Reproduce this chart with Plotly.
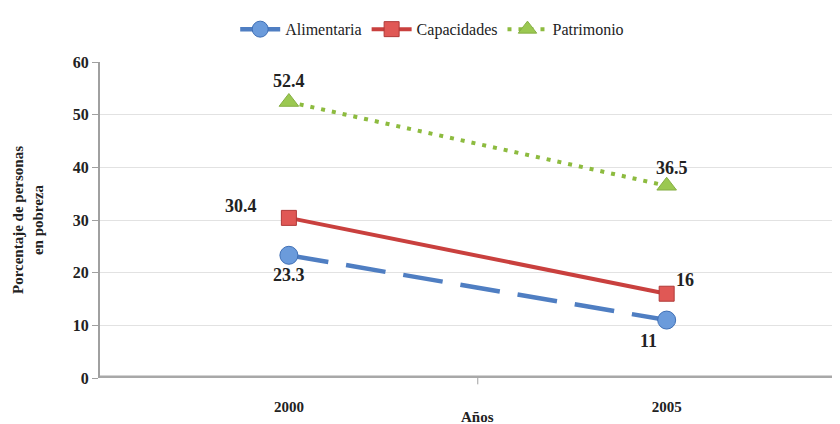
import plotly.graph_objects as go

years = ["2000", "2005"]
alimentaria = [23.3, 11]
capacidades = [30.4, 16]
patrimonio = [52.4, 36.5]
y_ticks = [0, 10, 20, 30, 40, 50, 60]

FONT = "Liberation Serif, DejaVu Serif, serif"
fig = go.Figure()
xs = [0, 1]
fig.add_trace(go.Scatter(x=xs, y=alimentaria, name="Alimentaria", mode="lines+markers",
                         line=dict(color="#4F7EC2", width=4.5, dash="40px,18px"),
                         marker=dict(symbol="circle", size=18, color="#6B9BDB",
                                     line=dict(color="#3F6FB5", width=1))))
fig.add_trace(go.Scatter(x=xs, y=capacidades, name="Capacidades", mode="lines+markers",
                         line=dict(color="#C9403E", width=4),
                         marker=dict(symbol="square", size=15, color="#E05855",
                                     line=dict(color="#B03A38", width=1))))
fig.add_trace(go.Scatter(x=xs, y=patrimonio, name="Patrimonio", mode="lines+markers",
                         line=dict(color="#8DBB3F", width=4, dash="4px,7px"),
                         marker=dict(symbol="triangle-up", size=17, color="#9BC851",
                                     line=dict(color="#86AF44", width=1))))

lab = dict(font=dict(family=FONT, size=18, color="#222222", weight="bold"), showarrow=False)
anns = [
    (0, patrimonio[0], "52.4", 0, 21),
    (1, patrimonio[1], "36.5", 5, 18),
    (0, capacidades[0], "30.4", -48, 12),
    (1, capacidades[1], "16", 18, 14),
    (0, alimentaria[0], "23.3", 0, -20),
    (1, alimentaria[1], "11", -18, -21),
]
for x, y, t, dx, dy in anns:
    fig.add_annotation(x=x, y=y, text=t, xshift=dx, yshift=dy, **lab)

fig.add_annotation(x=0.5, xref="x", y=-0.123, yref="paper", yanchor="middle",
                   text="Años", showarrow=False,
                   font=dict(family=FONT, size=15, color="#222222", weight="bold"))

fig.add_shape(type="line", xref="paper", yref="y", x0=0, x1=1, y0=0, y1=0,
              line=dict(color="#A8A8A8", width=5))

fig.update_layout(
    width=840, height=424,
    margin=dict(l=92, r=0, t=54, b=54),
    plot_bgcolor="white", paper_bgcolor="white",
    font=dict(family=FONT, color="#222222"),
    showlegend=True,
    legend=dict(orientation="h", xref="container", x=0.505, xanchor="center",
                yref="container", y=0.99, yanchor="top",
                font=dict(family=FONT, size=16, color="#222222"), itemwidth=40,
                traceorder="normal"),
    xaxis=dict(range=[-0.5, 1.48], tickvals=xs, ticktext=years,
               tickfont=dict(family=FONT, size=15, weight="bold"),
               showgrid=False, zeroline=False, showline=False, ticks="",
               ticklabelstandoff=18),
    yaxis=dict(range=[0, 60], tickvals=y_ticks,
               tickfont=dict(family=FONT, size=16, weight="bold"),
               showgrid=True, gridcolor="#E2E2E2", gridwidth=1,
               zeroline=False, showline=True, linecolor="#A0A0A0", linewidth=2,
               ticks="outside", ticklen=6, tickcolor="#A0A0A0",
               title=dict(text="Porcentaje de personas<br>en pobreza",
                          font=dict(family=FONT, size=15, weight="bold"), standoff=26)),
)
fig.add_shape(type="line", xref="x", yref="paper", x0=0.5, x1=0.5, y0=0, y1=-0.02,
              line=dict(color="#A0A0A0", width=1))
fig.write_html("out.html")
